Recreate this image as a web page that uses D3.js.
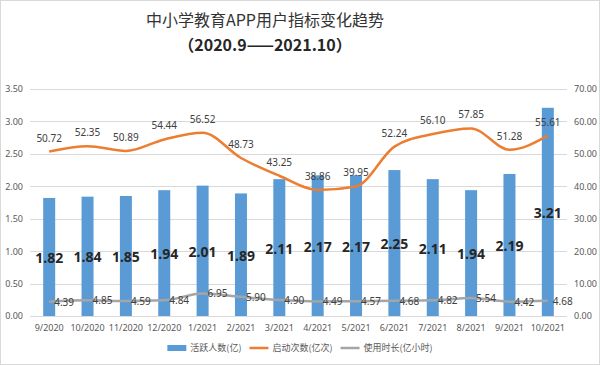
<!DOCTYPE html>
<html lang="zh">
<head>
    <meta charset="utf-8">
    <title>中小学教育APP用户指标变化趋势</title>
    <script src="https://d3js.org/d3.v7.min.js"></script>
    <style>
        body { margin: 0; background: #fff; }
        text { font-family: "Noto Sans CJK SC", "Noto Sans", sans-serif; }
    </style>
</head>
<body>
    <script type="text/javascript">
        var months = ["9/2020", "10/2020", "11/2020", "12/2020", "1/2021", "2/2021", "3/2021",
                      "4/2021", "5/2021", "6/2021", "7/2021", "8/2021", "9/2021", "10/2021"];
        var activeUsers = [1.82, 1.84, 1.85, 1.94, 2.01, 1.89, 2.11, 2.17, 2.17, 2.25, 2.11, 1.94, 2.19, 3.21];
        var launches = [50.72, 52.35, 50.89, 54.44, 56.52, 48.73, 43.25, 38.86, 39.95, 52.24, 56.10, 57.85, 51.28, 55.61];
        var usageHours = [4.39, 4.85, 4.59, 4.84, 6.95, 5.90, 4.90, 4.49, 4.57, 4.68, 4.82, 5.54, 4.42, 4.68];
        var leftTicks = [0, 0.5, 1, 1.5, 2, 2.5, 3, 3.5];
        var rightTicks = [0, 10, 20, 30, 40, 50, 60, 70];
        var seriesNames = ["活跃人数(亿)", "启动次数(亿次)", "使用时长(亿小时)"];
        var seriesColors = ["#5B9BD5", "#ED7D31", "#A5A5A5"];

        var w = 600, h = 365;
        var plotLeft = 30, plotRight = 567, plotTop = 89, plotBottom = 316;

        var svg = d3.select("body").append("svg")
                    .attr("width", w)
                    .attr("height", h);

        // frame
        svg.append("rect")
           .attr("x", 0.5).attr("y", 0.5)
           .attr("width", w - 1).attr("height", h - 1)
           .attr("fill", "#fff")
           .attr("stroke", "#d9d9d9");

        // title
        svg.append("text")
           .attr("x", 265).attr("y", 26)
           .attr("text-anchor", "middle")
           .attr("font-size", 16)
           .attr("fill", "#333")
           .text("中小学教育APP用户指标变化趋势");
        svg.append("text")
           .attr("x", 265).attr("y", 51)
           .attr("text-anchor", "middle")
           .attr("font-size", 16)
           .attr("font-weight", "bold")
           .attr("fill", "#262626")
           .text("（2020.9——2021.10）");

        var x = d3.scaleBand().domain(months).range([plotLeft, plotRight]);
        var yL = d3.scaleLinear().domain([0, 3.5]).range([plotBottom, plotTop]);
        var yR = d3.scaleLinear().domain([0, 70]).range([plotBottom, plotTop]);
        var cx = function(d, i) { return x(months[i]) + x.bandwidth() / 2; };

        // gridlines
        svg.append("g").selectAll("line")
           .data(leftTicks)
           .enter().append("line")
           .attr("x1", plotLeft).attr("x2", plotRight)
           .attr("y1", function(d) { return Math.round(yL(d)) + 0.5; })
           .attr("y2", function(d) { return Math.round(yL(d)) + 0.5; })
           .attr("stroke", "#d9d9d9");

        // axes
        var axisL = svg.append("g")
           .attr("transform", "translate(" + (plotLeft - 4) + ",0)")
           .call(d3.axisLeft(yL).tickValues(leftTicks).tickFormat(d3.format(".2f")).tickSize(0));
        var axisR = svg.append("g")
           .attr("transform", "translate(" + (plotRight + 4) + ",0)")
           .call(d3.axisRight(yR).tickValues(rightTicks).tickFormat(d3.format(".2f")).tickSize(0));
        var axisX = svg.append("g")
           .attr("transform", "translate(0," + (plotBottom + 6) + ")")
           .call(d3.axisBottom(x).tickSize(0));
        [axisL, axisR, axisX].forEach(function(a) {
            a.select(".domain").remove();
            a.selectAll("text").attr("font-size", 9).attr("fill", "#595959")
             .style("font-family", "'Noto Sans', sans-serif");
        });

        // bars
        var barW = 12;
        svg.append("g").selectAll("rect")
           .data(activeUsers)
           .enter().append("rect")
           .attr("x", function(d, i) { return cx(d, i) - barW / 2; })
           .attr("y", function(d) { return yL(d); })
           .attr("width", barW)
           .attr("height", function(d) { return plotBottom - yL(d); })
           .attr("fill", seriesColors[0]);

        // lines
        var lineR = d3.line()
                      .x(function(d, i) { return cx(d, i); })
                      .y(function(d) { return yR(d); })
                      .curve(d3.curveMonotoneX);
        svg.append("path")
           .datum(launches)
           .attr("d", lineR)
           .attr("fill", "none")
           .attr("stroke", seriesColors[1])
           .attr("stroke-width", 2.5);
        svg.append("path")
           .datum(usageHours)
           .attr("d", lineR)
           .attr("fill", "none")
           .attr("stroke", seriesColors[2])
           .attr("stroke-width", 2.5);

        // labels
        svg.append("g").selectAll("text")
           .data(activeUsers)
           .enter().append("text")
           .attr("x", cx)
           .attr("y", function(d) { return (yL(d) + plotBottom) / 2 + 6; })
           .attr("text-anchor", "middle")
           .attr("font-size", 14)
           .attr("font-weight", "bold")
           .attr("fill", "#262626")
           .style("font-family", "'Noto Sans', sans-serif")
           .text(function(d) { return d.toFixed(2); });

        svg.append("g").selectAll("text")
           .data(launches)
           .enter().append("text")
           .attr("x", cx)
           .attr("y", function(d) { return yR(d) - 10; })
           .attr("text-anchor", "middle")
           .attr("font-size", 10)
           .attr("fill", "#404040")
           .style("font-family", "'Noto Sans', sans-serif")
           .text(function(d) { return d.toFixed(2); });

        svg.append("g").selectAll("text")
           .data(usageHours)
           .enter().append("text")
           .attr("x", function(d, i) { return cx(d, i) + 5; })
           .attr("y", function(d) { return yR(d) + 4; })
           .attr("text-anchor", "start")
           .attr("font-size", 10)
           .attr("fill", "#404040")
           .style("font-family", "'Noto Sans', sans-serif")
           .text(function(d) { return d.toFixed(2); });

        // legend, laid out from measured text widths
        var legend = svg.append("g").attr("transform", "translate(0,348)");
        var items = legend.selectAll("g.leg")
           .data(seriesNames)
           .enter().append("g")
           .attr("class", "leg");
        items.each(function(d, i) {
            var g = d3.select(this);
            if (i === 0) {
                g.append("rect").attr("x", 0).attr("y", -3).attr("width", 19).attr("height", 6).attr("fill", seriesColors[i]);
            } else {
                g.append("line").attr("x1", 0).attr("x2", 19).attr("stroke", seriesColors[i]).attr("stroke-width", 2.5);
            }
            g.append("text").attr("x", 23).attr("y", 3)
             .attr("font-size", 9).attr("fill", "#595959").text(d);
        });
        var widths = [];
        items.each(function() { widths.push(this.getBBox().width); });
        var gap = 8;
        var total = d3.sum(widths) + gap * (widths.length - 1);
        var pos = 300 - total / 2;
        items.attr("transform", function(d, i) {
            var p = pos;
            pos += widths[i] + gap;
            return "translate(" + p + ",0)";
        });
    </script>
</body>
</html>
